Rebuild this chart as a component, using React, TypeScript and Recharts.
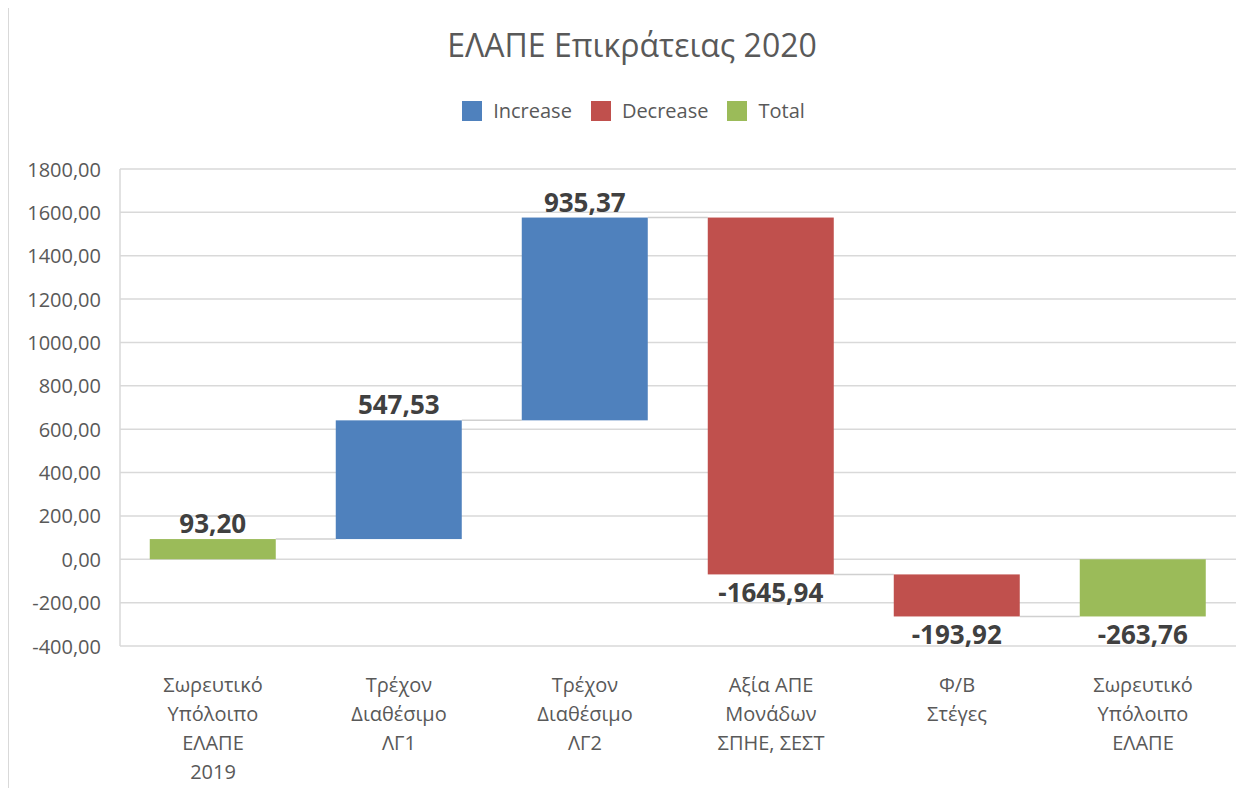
import React from 'react';
import { BarChart, Bar, XAxis, YAxis, CartesianGrid, Cell, LabelList } from 'recharts';

const TITLE = 'ΕΛΑΠΕ Επικράτειας 2020';
const categories = [
  'Σωρευτικό\nΥπόλοιπο\nΕΛΑΠΕ\n2019',
  'Τρέχον\nΔιαθέσιμο\nΛΓ1',
  'Τρέχον\nΔιαθέσιμο\nΛΓ2',
  'Αξία ΑΠΕ\nΜονάδων\nΣΠΗΕ, ΣΕΣΤ',
  'Φ/Β\nΣτέγες',
  'Σωρευτικό\nΥπόλοιπο\nΕΛΑΠΕ',
];
const values = [93.2, 547.53, 935.37, -1645.94, -193.92, -263.76];
const kinds = ['total', 'increase', 'increase', 'decrease', 'decrease', 'total'];
const yTicks = [-400, -200, 0, 200, 400, 600, 800, 1000, 1200, 1400, 1600, 1800];
const legendItems = [
  { key: 'increase', label: 'Increase' },
  { key: 'decrease', label: 'Decrease' },
  { key: 'total', label: 'Total' },
];
const COLORS: Record<string, string> = { increase: '#4F81BD', decrease: '#C0504D', total: '#9BBB59' };

const FONT = '"Open Sans", "Noto Sans", sans-serif';
const PLOT_LEFT = 120;
const PLOT_RIGHT = 1236;
const PLOT_W = PLOT_RIGHT - PLOT_LEFT;

// Build waterfall ranges
let running = 0;
const data = categories.map((name, i) => {
  const kind = kinds[i];
  let range: [number, number];
  if (kind === 'total') {
    range = [0, values[i]];
    running = values[i];
  } else {
    range = [running, running + values[i]];
    running = running + values[i];
  }
  return { name, range, value: values[i], kind, end: running };
});

const fmt = (v: number) => v.toFixed(2).replace('.', ',');

const BarShape = (props: any) => {
  const { x, y, width, height, index, payload } = props;
  const top = Math.min(y, y + height);
  const h = Math.abs(height);
  const band = PLOT_W / categories.length;
  const gap = band - width;
  let lineY: number | null = null;
  if (index < categories.length - 1) {
    const k = payload.kind;
    const v = payload.value;
    if (k === 'increase' || (k === 'total' && v >= 0)) lineY = top;
    else lineY = top + h;
  }
  return (
    <g>
      {lineY !== null && (
        <line x1={x + width} x2={x + width + gap} y1={lineY} y2={lineY} stroke="#d0d0d0" strokeWidth={1.5} />
      )}
      <rect x={x} y={top} width={width} height={h} fill={COLORS[payload.kind]} />
    </g>
  );
};

const renderLabel = (props: any) => {
  const { x, y, width, height, value } = props;
  const top = Math.min(y, y + height);
  const bottom = Math.max(y, y + height);
  const v = Number(value);
  const cy = v >= 0 ? top - 16 : bottom + 18;
  return (
    <text
      x={x + width / 2}
      y={cy}
      textAnchor="middle"
      dominantBaseline="central"
      fontFamily={FONT}
      fontWeight={700}
      fontSize={26}
      fill="#404040"
    >
      {fmt(v)}
    </text>
  );
};

const XTick = (props: any) => {
  const { x, y, payload } = props;
  const lines = String(payload.value).split('\n');
  return (
    <text x={x} y={y} textAnchor="middle" fontFamily={FONT} fontSize={20} fill="#595959">
      {lines.map((l, i) => (
        <tspan key={i} x={x} y={y + 30 + i * 29} dominantBaseline="central">
          {l}
        </tspan>
      ))}
    </text>
  );
};

const YTick = (props: any) => {
  const { y, payload } = props;
  return (
    <text x={101} y={y} textAnchor="end" dominantBaseline="central" fontFamily={FONT} fontSize={20} fill="#595959">
      {fmt(payload.value)}
    </text>
  );
};

export default function App() {
  return (
    <div style={{ position: 'relative', width: 1250, height: 788, marginLeft: -8, marginTop: -8, overflow: 'hidden', background: '#fff' }}>
      <div
        style={{
          position: 'absolute',
          left: 8,
          top: 6,
          width: 1236,
          height: 800,
          border: '1.5px solid #d9d9d9',
          boxSizing: 'border-box',
        }}
      />
      <div
        style={{
          position: 'absolute',
          left: 0,
          width: 1264,
          top: 24,
          textAlign: 'center',
          fontFamily: FONT,
          fontSize: 32,
          color: '#595959',
          lineHeight: '42px',
        }}
      >
        {TITLE}
      </div>
      <div
        style={{
          position: 'absolute',
          left: 0,
          width: 1286,
          top: 98,
          display: 'flex',
          justifyContent: 'center',
          alignItems: 'center',
          fontFamily: FONT,
          fontSize: 20,
          color: '#595959',
          lineHeight: '26px',
        }}
      >
        {legendItems.map((it) => (
          <div key={it.key} style={{ display: 'flex', alignItems: 'center', marginRight: 19 }}>
            <div style={{ width: 20, height: 20, background: COLORS[it.key], marginRight: 11 }} />
            <span>{it.label}</span>
          </div>
        ))}
      </div>
      <div style={{ position: 'absolute', left: 0, top: 0 }}>
        <BarChart
          width={1250}
          height={788}
          data={data}
          margin={{ top: 169, right: 1250 - PLOT_RIGHT, bottom: 12, left: 10 }}
          barCategoryGap="16%"
        >
          <CartesianGrid vertical={false} stroke="#d9d9d9" strokeWidth={1.5} />
          <XAxis dataKey="name" axisLine={false} tickLine={false} tick={<XTick />} height={130} interval={0} />
          <YAxis
            domain={[-400, 1800]}
            ticks={yTicks}
            width={110}
            axisLine={{ stroke: '#d9d9d9', strokeWidth: 1.5 }}
            tickLine={false}
            tick={<YTick />}
            interval={0}
          />
          <Bar dataKey="range" shape={<BarShape />} isAnimationActive={false}>
            {data.map((d, i) => (
              <Cell key={i} fill={COLORS[d.kind]} />
            ))}
            <LabelList dataKey="value" content={renderLabel} />
          </Bar>
        </BarChart>
      </div>
    </div>
  );
}
